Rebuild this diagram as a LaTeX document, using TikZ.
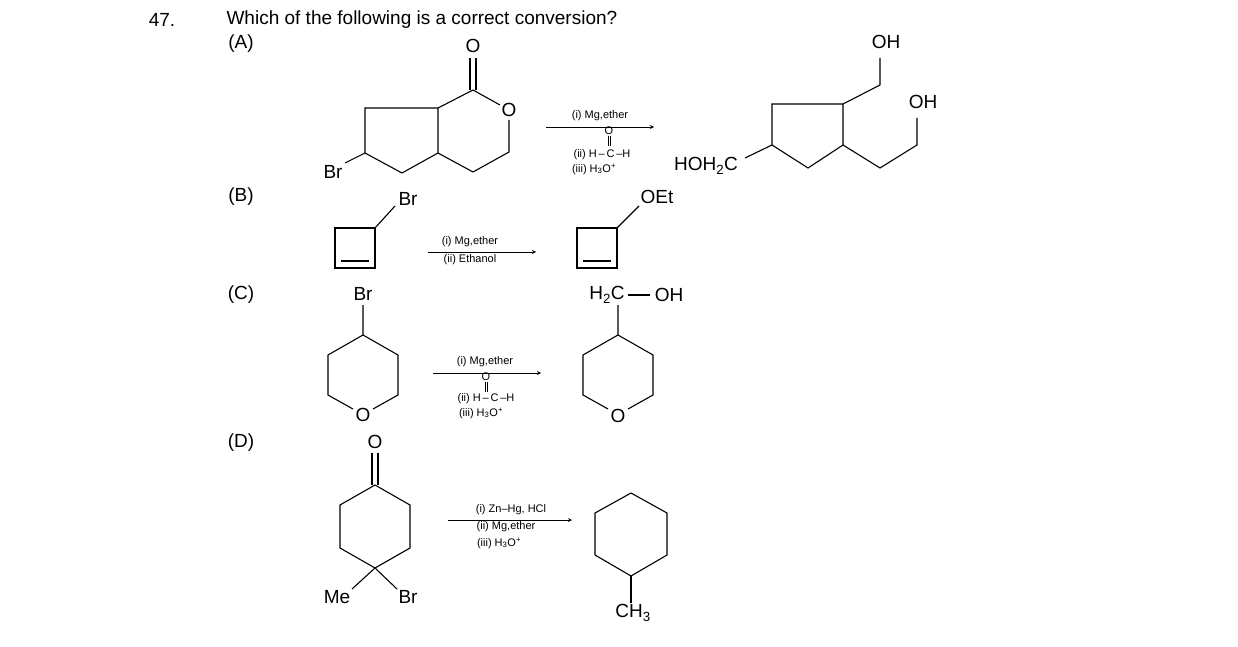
\documentclass[tikz,border=0pt]{standalone}
\usepackage{fontspec}
\setmainfont{Liberation Sans}
\newcommand{\sbb}[1]{\textsubscript{#1}}
\newcommand{\spp}[1]{\textsuperscript{#1}}
\begin{document}
\begin{tikzpicture}[x=1pt,y=-1pt,line width=1.1pt,
 lab/.style={font=\fontsize{19}{21}\selectfont,inner sep=0pt},
 sm/.style={font=\fontsize{11}{12}\selectfont,inner sep=0pt},
 arr/.style={line width=0.8pt,->,>=stealth}]
\useasboundingbox (0,0) rectangle (1238,647);
% header
\node[lab] (n47) at (162,20) {47.};
\node[lab,anchor=west] (q) at (226,20) {Which of the following is a correct conversion?};
\node[lab] (la) at (241,44) {(A)};
\node[lab] (lb) at (241,197) {(B)};
\node[lab] (lc) at (241,295) {(C)};
\node[lab] (ld) at (241,443) {(D)};
% A reactant
\draw (365,153)--(365,108)--(438,108)--(438,153)--(402,173)--cycle;
\draw (438,108)--(473,90)--(500,105);
\draw (509,120)--(509,152)--(473,172)--(438,153);
\node[lab] (ao) at (509,110) {O};
\node[lab] (ao2) at (473,46) {O};
\draw (470,58)--(470,90) (476,58)--(476,90);
\draw (365,153)--(345,163);
\node[lab] (abr) at (333,172) {Br};
% A arrow
\coordinate (a1) at (546,127); \coordinate (a2) at (654,127);
\draw[arr] (a1)--(a2);
\node[sm] at (600,116) {(i) Mg,ether};
\node[sm] (aco) at (609,131) {O};
\draw[line width=0.5pt] (608,136)--(608,146) (610,136)--(610,146);
\node[sm] at (602,155) {(ii) H\,--\,C\,--H};
\node[sm] at (594,169) {(iii) H\sbb{3}O\spp{+}};
% A product
\draw (843,145)--(843,104)--(772,104)--(772,145)--(808,168)--cycle;
\draw (843,104)--(880,85)--(880,58);
\node[lab] (oh1) at (886,42) {OH};
\draw (843,145)--(880,168)--(917,145)--(917,118);
\node[lab] (oh2) at (923,102) {OH};
\draw (772,145)--(745,158);
\node[lab] (hoh) at (706,166) {HOH\sbb{2}C};
% B
\draw (335,228) rectangle (375,268);
\draw (341,261)--(369,261);
\draw (375,228)--(395,206);
\node[lab] (bbr) at (408,199) {Br};
\coordinate (b1) at (428,252); \coordinate (b2) at (536,252);
\draw[arr] (b1)--(b2);
\node[sm] at (470,242) {(i) Mg,ether};
\node[sm] at (470,260) {(ii) Ethanol};
\draw (577,228) rectangle (617,268);
\draw (583,261)--(611,261);
\draw (617,228)--(639,206);
\node[lab] (oet) at (657,197) {OEt};
% C
\node[lab] (cbr) at (363,294) {Br};
\draw (363,305)--(363,335)--(398,355)--(398,395)--(373,409);
\draw (353,409)--(328,395)--(328,355)--(363,335);
\node[lab] (co1) at (363,415) {O};
\coordinate (c1) at (433,373); \coordinate (c2) at (541,373);
\draw[arr] (c1)--(c2);
\node[sm] at (485,362) {(i) Mg,ether};
\node[sm] at (486,377) {O};
\draw[line width=0.5pt] (485,382)--(485,392) (487,382)--(487,392);
\node[sm] at (486,399) {(ii) H\,--\,C\,--H};
\node[sm] at (481,413) {(iii) H\sbb{3}O\spp{+}};
\node[lab] (h2c) at (607,295) {H\sbb{2}C};
\draw (628,295)--(650,295);
\node[lab] (coh) at (669,295) {OH};
\draw (618,305)--(618,335)--(653,355)--(653,395)--(628,409);
\draw (608,409)--(583,395)--(583,355)--(618,335);
\node[lab] (co2) at (618,416) {O};
% D
\node[lab] (do) at (375,442) {O};
\draw (372,453)--(372,485) (378,453)--(378,485);
\draw (375,485)--(410,505)--(410,548)--(375,568)--(340,548)--(340,505)--cycle;
\draw (375,568)--(352,589) (375,568)--(397,589);
\node[lab] (dme) at (337,597) {Me};
\node[lab] (dbr) at (408,597) {Br};
\coordinate (d1) at (448,520); \coordinate (d2) at (572,520);
\draw[arr] (d1)--(d2);
\node[sm] at (511,510) {(i) Zn--Hg, HCl};
\node[sm] at (506,527) {(ii) Mg,ether};
\node[sm] at (499,543) {(iii) H\sbb{3}O\spp{+}};
\draw (631,493)--(667,513)--(667,555)--(631,576)--(595,555)--(595,513)--cycle;
\draw (631,576)--(631,603);
\node[lab] (ch3) at (633,613) {CH\sbb{3}};
\end{tikzpicture}
\end{document}
